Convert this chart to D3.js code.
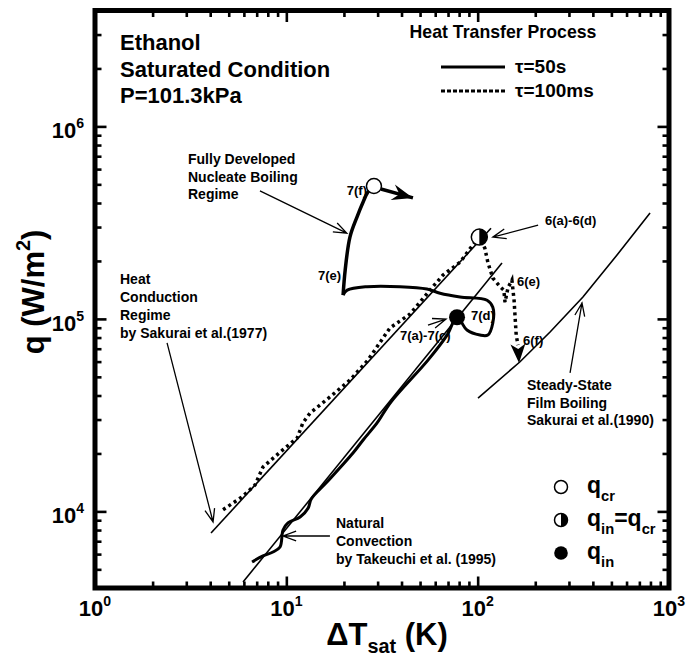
<!DOCTYPE html>
<html>
<head>
<meta charset="utf-8">
<script src="https://cdn.jsdelivr.net/npm/d3@7"></script>
<style>
  body { margin: 0; background: #fff; }
  text { font-family: "Liberation Sans", Arial, Helvetica, sans-serif; font-weight: bold; fill: #000; }
</style>
</head>
<body>
<svg id="chart" width="696" height="658"></svg>
<script>
// ---- data: [dTsat (K), q (W/m2)] ----
var xMajor = [1, 10, 100, 1000];
var xExp = ['0', '1', '2', '3'];
var yMajor = [1e4, 1e5, 1e6];
var yExp = ['4', '5', '6'];

// Sakurai et al. (1977) heat conduction regime
var conduction = [[4.04, 7720], [117.4, 296000]];
// Takeuchi et al. (1995) natural convection
var convection = [[5.94, 4300], [134, 195000]];
// Sakurai et al. (1990) steady-state film boiling
var filmBoiling = [[100.4, 38800], [166, 59700], [239, 85500], [355, 130000], [535, 215000], [796, 355000]];

// tau = 50 s
var tau50s = [
  [6.62, 5460], [7.55, 5870], [8.51, 6150], [9.27, 6530], [9.61, 8000], [10.2, 8710],
  [11.8, 9350], [13.0, 10400], [13.5, 11600], [16.3, 14200], [22.3, 20100], [25.2, 23500],
  [29.8, 28800], [35.2, 37000], [55.0, 61100], [69.2, 82400], [78.0, 102000],
  [87.9, 87500], [102.8, 82400], [113, 82400], [120, 95200], [120, 115000], [112, 125000],
  [80.9, 130000], [63.6, 136000], [54.3, 143000], [39.3, 147000], [26.4, 147000],
  [20.8, 141000], [19.8, 133000]
];
var tau50sUp = [
  [19.8, 133000], [20.3, 179000], [21.5, 266000], [23.4, 338000], [25.2, 405000], [26.7, 456000], [28.7, 490000]
];
// tau = 100 ms
var tau100ms = [
  [4.67, 10200], [5.87, 11900], [6.86, 13700], [7.55, 17000], [9.27, 20300], [11.4, 24100],
  [12.2, 28800], [13.3, 32400], [16.9, 39300], [21.5, 48100], [26.7, 61100], [34.8, 89700],
  [44.3, 106000], [58.4, 147000], [65.9, 169000], [80.9, 197000], [93.4, 239000], [102, 266000],
  [109, 233000], [113, 197000], [120, 163000], [131, 147000], [137, 141000], [139, 122000],
  [144, 145000], [151, 159000], [155, 125000], [159, 82400], [162.5, 73100]
];
var tau100msHead = [[162.5, 73100], [164.5, 59000]];
var tau50sHead = [[31.2, 473000], [45.9, 425000]];

// markers
var qcrPoint = [28.7, 490000];      // 7(f)
var qinqcrPoint = [102, 266000];    // 6(a)-6(d)
var qinPoint = [78.0, 102000];      // 7(a)-7(c)

// annotation arrows [from, to]
var arrows = [
  [[2.38, 75000], [4.14, 8810]],
  [[7.28, 462000], [20.7, 279000]],
  [[16.9, 7450], [9.61, 7450]],
  [[55.0, 92900], [68.3, 99800]],
  [[207, 307000], [120, 266000]],
  [[304, 52400], [351, 121000]]
];

// ---- chart ----
var svg = d3.select('#chart');
var x = d3.scaleLog().domain([1, 1000]).range([95, 669]);
var y = d3.scaleLog().domain([4e3, 4e6]).range([588, 10.5]);

var line = d3.line().x(function (d) { return x(d[0]); }).y(function (d) { return y(d[1]); });
var smooth = d3.line().x(function (d) { return x(d[0]); }).y(function (d) { return y(d[1]); })
  .curve(d3.curveCatmullRom.alpha(0.5));

var xMinor = [], yMinor = [];
[1, 10, 100].forEach(function (d) { for (var k = 2; k < 10; k++) xMinor.push(d * k); });
[1e3, 1e4, 1e5, 1e6].forEach(function (d) {
  for (var k = 2; k < 10; k++) { var v = d * k; if (v > 4e3 && v < 4e6) yMinor.push(v); }
});

function ticks(axis, vals, size, tr) {
  var g = svg.append('g').attr('transform', tr)
    .call(axis.tickValues(vals).tickSize(size).tickFormat(''));
  g.select('.domain').remove();
  g.selectAll('line').attr('stroke', '#000').attr('stroke-width', 2.6);
}
ticks(d3.axisBottom(x), xMajor, -11.5, 'translate(0,588)');
ticks(d3.axisBottom(x), xMinor, -6.5, 'translate(0,588)');
ticks(d3.axisTop(x), xMajor, -11.5, 'translate(0,10.5)');
ticks(d3.axisTop(x), xMinor, -6.5, 'translate(0,10.5)');
ticks(d3.axisLeft(y), yMajor, -11.5, 'translate(95,0)');
ticks(d3.axisLeft(y), yMinor, -6.5, 'translate(95,0)');
ticks(d3.axisRight(y), yMajor, -11.5, 'translate(669,0)');
ticks(d3.axisRight(y), yMinor, -6.5, 'translate(669,0)');

svg.append('rect').attr('x', 95).attr('y', 10.5).attr('width', 574).attr('height', 577.5)
  .attr('fill', 'none').attr('stroke', '#000').attr('stroke-width', 5);

function rich(px, py, parts, size, anchor, subShift) {
  var t = svg.append('text').attr('x', px).attr('y', py).attr('font-size', size)
    .attr('text-anchor', anchor || 'start');
  var shift = 0;
  parts.forEach(function (p) {
    var s = p[1] === 'sup' ? -size * 0.45 : p[1] === 'sub' ? size * (subShift || 0.35) : 0;
    t.append('tspan').attr('dy', s - shift).attr('font-size', p[1] ? size * 0.64 : size).text(p[0]);
    shift = s;
  });
  return t;
}

// tick labels
xMajor.forEach(function (v, i) { rich(x(v), 616, [['10'], [xExp[i], 'sup']], 22, 'middle'); });
yMajor.forEach(function (v, i) { rich(84, y(v) + 12, [['10'], [yExp[i], 'sup']], 22, 'end'); });

// axis titles
rich(387, 645, [['\u0394T'], ['sat', 'sub'], [' (K)']], 31, 'middle', 0.27);
rich(0, 0, [['q (W/m'], ['2', 'sup'], [')']], 31, 'middle')
  .attr('transform', 'translate(44,292) rotate(-90)');

// reference lines
[conduction, convection, filmBoiling].forEach(function (d) {
  svg.append('path').datum(d).attr('d', line)
    .attr('fill', 'none').attr('stroke', '#000').attr('stroke-width', 1.6);
});

// experimental curves
svg.append('path').datum(tau100ms).attr('d', line)
  .attr('fill', 'none').attr('stroke', '#000').attr('stroke-width', 3.5)
  .attr('stroke-dasharray', '3,3.5');
svg.append('path').datum(tau50s).attr('d', smooth)
  .attr('fill', 'none').attr('stroke', '#000').attr('stroke-width', 3)
  .attr('stroke-linejoin', 'round');
svg.append('path').datum(tau50sUp).attr('d', smooth)
  .attr('fill', 'none').attr('stroke', '#000').attr('stroke-width', 3.5)
  .attr('stroke-linejoin', 'round');

function headPath(a, b, len, half, notch) {
  var x1 = x(a[0]), y1 = y(a[1]), x2 = x(b[0]), y2 = y(b[1]);
  var dx = x2 - x1, dy = y2 - y1, L = Math.sqrt(dx * dx + dy * dy);
  var ux = dx / L, uy = dy / L, nx = -uy, ny = ux;
  var bx = x2 - ux * len, by = y2 - uy * len;
  return 'M' + x2 + ',' + y2 +
    'L' + (bx + nx * half) + ',' + (by + ny * half) +
    'L' + (x2 - ux * (len - notch)) + ',' + (y2 - uy * (len - notch)) +
    'L' + (bx - nx * half) + ',' + (by - ny * half) + 'Z';
}

// filled heads
svg.append('path').datum(tau50sHead).attr('d', line)
  .attr('stroke', '#000').attr('stroke-width', 3.5).attr('fill', 'none');
svg.append('path').attr('d', headPath(tau50sHead[0], tau50sHead[1], 21, 8, 7)).attr('fill', '#000');
svg.append('path').attr('d', headPath(tau100msHead[0], tau100msHead[1], 19, 7.5, 5)).attr('fill', '#000');

// annotation arrows (open V heads)
arrows.forEach(function (a) {
  var x1 = x(a[0][0]), y1 = y(a[0][1]), x2 = x(a[1][0]), y2 = y(a[1][1]);
  var ang = Math.atan2(y2 - y1, x2 - x1), h = 14, w = 0.36;
  var p = 'M' + x1 + ',' + y1 + 'L' + x2 + ',' + y2 +
    'M' + (x2 - h * Math.cos(ang - w)) + ',' + (y2 - h * Math.sin(ang - w)) +
    'L' + x2 + ',' + y2 +
    'L' + (x2 - h * Math.cos(ang + w)) + ',' + (y2 - h * Math.sin(ang + w));
  svg.append('path').attr('d', p).attr('fill', 'none').attr('stroke', '#000').attr('stroke-width', 1.3);
});

// markers
svg.append('circle').attr('cx', x(qcrPoint[0])).attr('cy', y(qcrPoint[1])).attr('r', 7.5)
  .attr('fill', '#fff').attr('stroke', '#000').attr('stroke-width', 1.5);
svg.append('circle').attr('cx', x(qinPoint[0])).attr('cy', y(qinPoint[1])).attr('r', 8).attr('fill', '#000');
function halfCircle(cx, cy, r) {
  svg.append('circle').attr('cx', cx).attr('cy', cy).attr('r', r)
    .attr('fill', '#fff').attr('stroke', '#000').attr('stroke-width', 1.5);
  svg.append('path').attr('d', 'M' + cx + ',' + (cy - r) + 'A' + r + ',' + r + ' 0 0 1 ' + cx + ',' + (cy + r) + 'Z')
    .attr('fill', '#000');
}
halfCircle(x(qinqcrPoint[0]), y(qinqcrPoint[1]), 8);

// texts
[['Ethanol', 50], ['Saturated Condition', 77], ['P=101.3kPa', 103]].forEach(function (t) {
  svg.append('text').attr('x', 120).attr('y', t[1]).attr('font-size', 22).text(t[0]);
});
svg.append('text').attr('x', 503).attr('y', 38).attr('font-size', 17.7).attr('text-anchor', 'middle').text('Heat Transfer Process');
svg.append('line').attr('x1', 441).attr('x2', 505).attr('y1', 67).attr('y2', 67).attr('stroke', '#000').attr('stroke-width', 3);
svg.append('line').attr('x1', 441).attr('x2', 505).attr('y1', 91).attr('y2', 91).attr('stroke', '#000').attr('stroke-width', 3).attr('stroke-dasharray', '4,2');
svg.append('text').attr('x', 515).attr('y', 73).attr('font-size', 19).text('\u03c4=50s');
svg.append('text').attr('x', 515).attr('y', 97).attr('font-size', 19).text('\u03c4=100ms');

function block(px, py, lines, gap) {
  lines.forEach(function (s, i) {
    svg.append('text').attr('x', px).attr('y', py + i * gap).attr('font-size', 14).text(s);
  });
}
block(188, 164, ['Fully Developed', 'Nucleate Boiling', 'Regime'], 17.5);
block(120, 284, ['Heat', 'Conduction', 'Regime', 'by Sakurai et al.(1977)'], 18);
block(336, 528, ['Natural', 'Convection', 'by Takeuchi et al. (1995)'], 18);
block(527, 390, ['Steady-State', 'Film Boiling', 'Sakurai et al.(1990)'], 17.5);

[['7(f)', 367, 195, 'end'], ['7(e)', 318, 280, 'start'], ['7(d)', 471, 320, 'start'],
 ['7(a)-7(c)', 400, 340, 'start'], ['6(a)-6(d)', 545, 225, 'start'], ['6(e)', 517, 286, 'start'],
 ['6(f)', 523, 345, 'start']].forEach(function (t) {
  svg.append('text').attr('x', t[1]).attr('y', t[2]).attr('font-size', 13).attr('text-anchor', t[3]).text(t[0]);
});

// symbol legend
svg.append('circle').attr('cx', 561).attr('cy', 487).attr('r', 6.5).attr('fill', '#fff').attr('stroke', '#000').attr('stroke-width', 1.5);
halfCircle(561, 520, 6.5);
svg.append('circle').attr('cx', 561).attr('cy', 553).attr('r', 6.8).attr('fill', '#000');
rich(587, 493, [['q'], ['cr', 'sub']], 23);
rich(587, 526, [['q'], ['in', 'sub'], ['=q'], ['cr', 'sub']], 23);
rich(587, 559, [['q'], ['in', 'sub']], 23);
</script>
</body>
</html>
